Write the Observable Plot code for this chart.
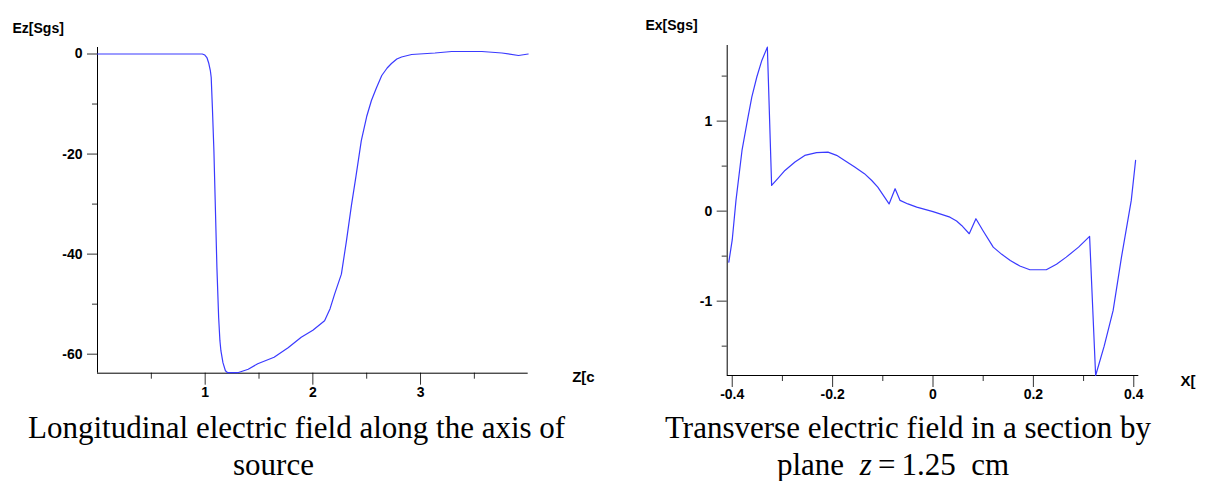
<!DOCTYPE html>
<html><head><meta charset="utf-8">
<script src="https://cdn.jsdelivr.net/npm/d3@7"></script>
<script src="https://cdn.jsdelivr.net/npm/@observablehq/plot@0.6"></script>
<style>
body{margin:0;background:#fff;}
#wrap{position:relative;width:1206px;height:481px;overflow:hidden;background:#fff;}
.chart{position:absolute;top:0;}
.cap{position:absolute;font-family:"Liberation Serif","Times New Roman",serif;font-size:31px;color:#000;white-space:nowrap;line-height:1;}
</style></head><body><div id="wrap"></div>
<script>
// Left chart: Ez along axis
const zPos = [0, 0.5, 0.9, 0.973, 0.997, 1.016, 1.034, 1.048, 1.056, 1.067, 1.081, 1.093, 1.109, 1.125, 1.137, 1.146, 1.165, 1.188, 1.209, 1.302, 1.40, 1.488, 1.640, 1.77, 1.892, 2.00, 2.109, 2.16, 2.202, 2.265, 2.311, 2.358, 2.40, 2.45, 2.50, 2.544, 2.59, 2.64, 2.69, 2.73, 2.78, 2.824, 2.917, 3.134, 3.29, 3.57, 3.756, 3.91, 4.0];
const ezVal = [0, 0, 0, 0, -0.2, -0.7, -1.9, -3.3, -4.7, -10.7, -19.3, -29.3, -42.7, -52.6, -57.3, -59.3, -61.7, -63.3, -63.7, -63.7, -63.0, -61.9, -60.6, -58.7, -56.6, -55.2, -53.3, -50.9, -48.0, -44.0, -37.5, -30.3, -24.5, -17.3, -12.5, -9.3, -6.8, -4.3, -2.8, -1.9, -1.0, -0.6, -0.1, 0.2, 0.5, 0.5, 0.2, -0.3, 0.0];
const leftXMajor = [1, 2, 3];
const leftXMinor = [0.5, 1.5, 2.5, 3.5];
const leftYMajor = [0, -20, -40, -60];
const leftYMinor = [-10, -30, -50];
const leftTitle = "Ez[Sgs]";
const leftXLabel = "Z[c";

// Right chart: Ex in section z = 1.25 cm
const xPos = [-0.4068, -0.400, -0.3925, -0.3805, -0.370, -0.361, -0.351, -0.341, -0.330, -0.3215, -0.308, -0.295, -0.275, -0.2555, -0.232, -0.2093, -0.192, -0.176, -0.156, -0.1366, -0.122, -0.110, -0.0875, -0.0755, -0.0656, -0.050, -0.0324, 0.000, 0.0338, 0.047, 0.057, 0.0722, 0.0855, 0.100, 0.12, 0.137, 0.154, 0.173, 0.193, 0.2257, 0.246, 0.2655, 0.29, 0.312, 0.324, 0.341, 0.3589, 0.3755, 0.395, 0.4036];
const exVal = [-0.567, -0.32, 0.12, 0.674, 1.00, 1.267, 1.49, 1.674, 1.822, 0.286, 0.37, 0.452, 0.545, 0.619, 0.650, 0.656, 0.62, 0.563, 0.49, 0.416, 0.34, 0.267, 0.08, 0.249, 0.119, 0.08, 0.044, -0.005, -0.067, -0.11, -0.159, -0.251, -0.084, -0.22, -0.40, -0.48, -0.548, -0.61, -0.651, -0.651, -0.59, -0.511, -0.40, -0.281, -1.826, -1.50, -1.103, -0.511, 0.119, 0.563];
const rightXMajor = [-0.4, -0.2, 0, 0.2, 0.4];
const rightXMinor = [-0.3, -0.1, 0.1, 0.3];
const rightYMajor = [1, 0, -1];
const rightYMinor = [1.5, 0.5, -0.5, -1.5];
const rightTitle = "Ex[Sgs]";
const rightXLabel = "X[";

const lineColor = "#3a3aff";
const tickFont = '"Liberation Sans Narrow","Arial Narrow","Liberation Sans",Arial,sans-serif';
const fmt = d => String(d);

const leftData = zPos.map((z, i) => ({z, v: ezVal[i]}));
const rightData = xPos.map((x, i) => ({x, v: exVal[i]}));

function makeChart(opts) {
  return Plot.plot({
    width: opts.width, height: 410,
    marginLeft: opts.ml, marginRight: opts.mr, marginTop: opts.mt, marginBottom: opts.mb,
    x: {domain: opts.xd, label: null},
    y: {domain: opts.yd, label: null},
    style: {fontFamily: tickFont, fontSize: "14px", fontWeight: "bold", color: "#000", background: "transparent"},
    marks: [
      Plot.axisY(opts.yMajor, {tickSize: 10, tickPadding: 5, tickFormat: fmt, stroke: "#333", label: null}),
      Plot.axisY(opts.yMinor, {tickSize: 5, tickFormat: () => "", stroke: "#333", label: null}),
      Plot.axisX(opts.xMajor, {tickSize: 12, tickPadding: 2, tickFormat: fmt, stroke: "#333", label: null}),
      Plot.axisX(opts.xMinor, {tickSize: 6, tickFormat: () => "", stroke: "#333", label: null}),
      Plot.ruleX([opts.xd[0]], {stroke: "#000"}),
      Plot.ruleY([opts.yd[0]], {stroke: "#000"}),
      Plot.line(opts.data, {x: opts.xk, y: "v", stroke: lineColor, strokeWidth: 1.2}),
      Plot.text([opts.title], {frameAnchor: "top-left", dx: opts.tdx, dy: opts.tdy, textAnchor: "start", fontSize: 14}),
      Plot.text([opts.xlabel], {frameAnchor: "bottom-right", dx: opts.ldx, dy: opts.ldy, textAnchor: "start", fontSize: 15})
    ]
  });
}

const wrap = document.getElementById("wrap");
const left = makeChart({
  width: 600, ml: 97, mr: 72.3, mt: 47, mb: 37.3,
  xd: [0, 4], yd: [-63.8, 1.3],
  xMajor: leftXMajor, xMinor: leftXMinor, yMajor: leftYMajor, yMinor: leftYMinor,
  data: leftData, xk: "z", title: leftTitle, xlabel: leftXLabel,
  tdx: -85, tdy: -24, ldx: 44, ldy: 9
});
left.classList.add("chart"); left.style.left = "0px";
wrap.appendChild(left);

const right = makeChart({
  width: 606, ml: 126.7, mr: 67.7, mt: 45, mb: 35,
  xd: [-0.41, 0.41], yd: [-1.826, 1.84],
  xMajor: rightXMajor, xMinor: rightXMinor, yMajor: rightYMajor, yMinor: rightYMinor,
  data: rightData, xk: "x", title: rightTitle, xlabel: rightXLabel,
  tdx: -81.7, tdy: -25, ldx: 41.7, ldy: 10
});
right.classList.add("chart"); right.style.left = "600px";
wrap.appendChild(right);

function cap(html, x, y) {
  const d = document.createElement("div");
  d.className = "cap"; d.innerHTML = html;
  d.style.left = x + "px"; d.style.top = y + "px";
  wrap.appendChild(d);
}
cap("Longitudinal electric field along the axis of", 28, 412);
cap("source", 233, 449);
cap("Transverse electric field in a section by", 665, 412);
cap("plane&nbsp;&nbsp;<i>z</i>&thinsp;=&thinsp;1.25&nbsp;&nbsp;cm", 777, 449);
</script></body></html>
